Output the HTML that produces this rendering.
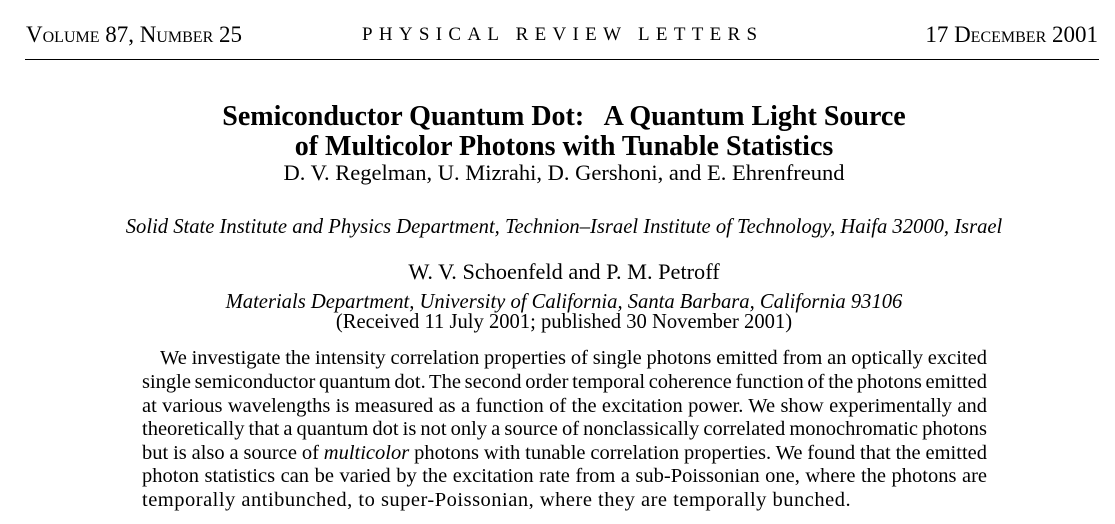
<!DOCTYPE html>
<html><head><meta charset="utf-8"><style>
html,body{margin:0;padding:0;background:#fff;width:1115px;height:524px;overflow:hidden;font-family:"Liberation Serif",serif;color:#000}
.a{position:absolute;white-space:nowrap;line-height:1}
.sc{font-variant:small-caps}
.c{left:0;width:1128px;text-align:center}
.j{position:absolute;white-space:nowrap;text-align:justify;text-align-last:justify;font-size:20.5px;line-height:1;word-spacing:-2.5px}
</style></head><body>
<div class="a sc" style="left:26px;top:23px;font-size:23px">Volume 87, Number 25</div>
<div class="a" style="left:362px;top:25px;font-size:19px;letter-spacing:6.3px">PHYSICAL REVIEW LETTERS</div>
<div class="a sc" style="right:17px;top:23px;font-size:23px">17 December 2001</div>
<div style="position:absolute;left:25px;top:59px;width:1074px;height:1px;background:#000"></div>

<div class="a c" style="top:103px;font-size:28px;font-weight:bold">Semiconductor Quantum Dot:&nbsp;&nbsp; A Quantum Light Source</div>
<div class="a c" style="top:133px;font-size:28px;font-weight:bold">of Multicolor Photons with Tunable Statistics</div>
<div class="a c" style="top:162px;font-size:22.5px">D. V. Regelman, U. Mizrahi, D. Gershoni, and E. Ehrenfreund</div>
<div class="a c" style="top:217px;font-size:20.6px;font-style:italic">Solid State Institute and Physics Department, Technion&#8211;Israel Institute of Technology, Haifa 32000, Israel</div>
<div class="a c" style="top:261px;font-size:22.3px">W. V. Schoenfeld and P. M. Petroff</div>
<div class="a c" style="top:292px;font-size:20.6px;font-style:italic">Materials Department, University of California, Santa Barbara, California 93106</div>
<div class="a c" style="top:312px;font-size:20.6px">(Received 11 July 2001; published 30 November 2001)</div>

<div class="j" style="left:160px;width:827px;top:348px">We investigate the intensity correlation properties of single photons emitted from an optically excited</div>
<div class="j" style="left:142px;width:845px;top:372px">single semiconductor quantum dot. The second order temporal coherence function of the photons emitted</div>
<div class="j" style="left:142px;width:845px;top:396px">at various wavelengths is measured as a function of the excitation power. We show experimentally and</div>
<div class="j" style="left:142px;width:845px;top:419px">theoretically that a quantum dot is not only a source of nonclassically correlated monochromatic photons</div>
<div class="j" style="left:142px;width:845px;top:443px">but is also a source of <i>multicolor</i> photons with tunable correlation properties. We found that the emitted</div>
<div class="j" style="left:142px;width:845px;top:466px">photon statistics can be varied by the excitation rate from a sub-Poissonian one, where the photons are</div>
<div class="a" style="left:142px;top:490px;font-size:20.5px;letter-spacing:0.5px">temporally antibunched, to super-Poissonian, where they are temporally bunched.</div>
</body></html>
